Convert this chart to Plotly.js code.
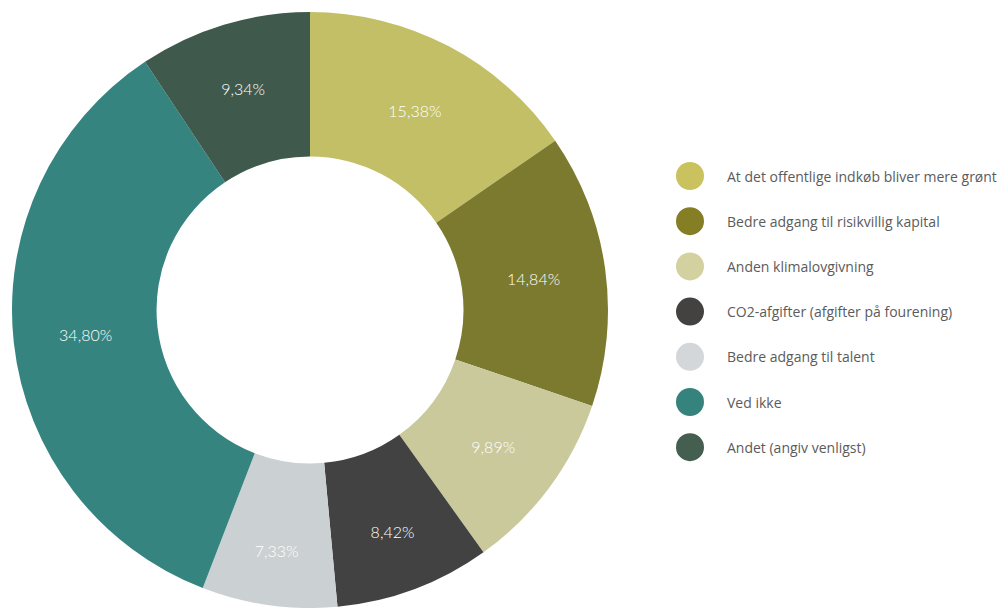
<!DOCTYPE html>
<html>
<head>
<meta charset="utf-8">
<script src="https://cdn.plot.ly/plotly-3.0.1.min.js"></script>
<style>html,body{margin:0;padding:0;background:#fff;}#chart{width:1005px;height:608px;}</style>
</head>
<body>
<div id="chart"></div>
<script>
var labels = [
  "At det offentlige indkøb bliver mere grønt",
  "Bedre adgang til risikvillig kapital",
  "Anden klimalovgivning",
  "CO2-afgifter (afgifter på fourening)",
  "Bedre adgang til talent",
  "Ved ikke",
  "Andet (angiv venligst)"
];
var values = [15.38, 14.84, 9.89, 8.42, 7.33, 34.80, 9.34];
var sliceColors = ["#c2bf66", "#7b7a2e", "#cac99c", "#424242", "#cbd0d2", "#35847f", "#3f5a4c"];
var legendColors = ["#c9c25e", "#857e24", "#d4d1a1", "#444240", "#d4d7da", "#36837e", "#445e4f"];

var W = 1005, H = 608;
var texts = values.map(function(v){ return v.toFixed(2).replace('.', ',') + '%'; });

var trace = {
  type: 'pie',
  labels: labels,
  values: values,
  text: texts,
  textinfo: 'text',
  textposition: 'inside',
  insidetextorientation: 'horizontal',
  hole: 0.515,
  sort: false,
  direction: 'clockwise',
  rotation: 0,
  marker: {colors: sliceColors, line: {width: 0}},
  textfont: {family: 'Lato, Open Sans, sans-serif', size: 16, color: '#ffffff', weight: 300},
  domain: {x: [12 / W, 608 / W], y: [0, 596 / H]},
  showlegend: false,
  hoverinfo: 'label+text'
};

var shapes = [], annotations = [];
var legX = 690, legY0 = 176, legStep = 45.2, rad = 14;
labels.forEach(function(lab, i) {
  var cy = legY0 + i * legStep;
  shapes.push({
    type: 'circle', xref: 'paper', yref: 'paper',
    x0: (legX - rad) / W, x1: (legX + rad) / W,
    y0: 1 - (cy + rad) / H, y1: 1 - (cy - rad) / H,
    fillcolor: legendColors[i], line: {width: 0}
  });
  annotations.push({
    xref: 'paper', yref: 'paper', x: 725 / W, y: 1 - cy / H,
    xanchor: 'left', yanchor: 'middle', showarrow: false,
    text: lab,
    font: {family: 'Open Sans, sans-serif', size: 14, color: '#5b5b5b'}
  });
});

var layout = {
  width: W, height: H,
  margin: {l: 0, r: 0, t: 0, b: 0},
  paper_bgcolor: '#ffffff',
  showlegend: false,
  shapes: shapes,
  annotations: annotations
};

Plotly.newPlot('chart', [trace], layout, {displayModeBar: false, staticPlot: true});
</script>
</body>
</html>
